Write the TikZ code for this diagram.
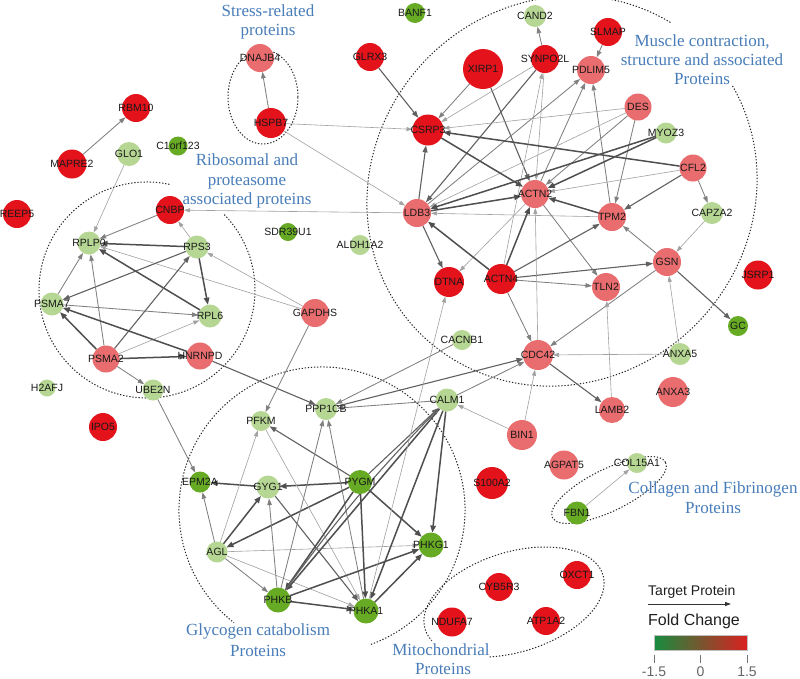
\documentclass[tikz,border=0pt]{standalone}
\usepackage{fontspec}
\setmainfont{Liberation Serif}
\newfontfamily\lblfont{Liberation Sans}
\usetikzlibrary{arrows.meta}
\definecolor{nred}{RGB}{227,18,27}
\definecolor{npink}{RGB}{233,108,110}
\definecolor{nlg}{RGB}{182,215,147}
\definecolor{ndg}{RGB}{103,171,36}
\definecolor{grptext}{RGB}{72,125,185}
\definecolor{cbgreen}{RGB}{22,140,62}
\definecolor{cbred}{RGB}{218,32,32}
\pgfdeclarelayer{back}
\pgfdeclarelayer{bg}
\pgfsetlayers{back,bg,main}
\tikzset{
  nd/.style={circle, draw=none, inner sep=0pt, outer sep=0pt, minimum size=#1},
  lbl/.style={font=\lblfont\fontsize{10.5}{12}\selectfont, text=black!90, inner sep=0pt},
  ethick/.style={draw=black!69, line width=1.5pt, -{Triangle[length=7pt,width=5.5pt]}},
  edark/.style={draw=black!62, line width=1.1pt, -{Triangle[length=7pt,width=5pt]}},
  emid/.style={draw=black!50, line width=0.85pt, -{Triangle[length=6.5pt,width=4.5pt]}},
  elight/.style={draw=black!37, line width=0.6pt, -{Triangle[length=6pt,width=4pt]}},
  grp/.style={draw=black!85, line width=1pt, dash pattern=on 1.3pt off 1.8pt},
  grpl/.style={font=\fontsize{17}{20}\selectfont, text=grptext, anchor=base, inner sep=0pt},
  lgd/.style={font=\lblfont\fontsize{14}{16}\selectfont, text=black!88, inner sep=0pt},
}
\newcommand\nodeat[5]{\node[nd=#4,fill=#5,label={[lbl]center:#1}] (#1) at (#2,-#3) {};}
\begin{document}
\begin{tikzpicture}[x=1pt,y=1pt]
\useasboundingbox (0,0) rectangle (800,-678);
\begin{pgfonlayer}{back}
\fill[white] (0,0) rectangle (800,-678);
\end{pgfonlayer}
% nodes
\nodeat{BANF1}{415}{13}{20}{ndg}
\nodeat{CAND2}{535}{16}{22}{nlg}
\nodeat{GLRX3}{370}{57}{28}{nred}
\nodeat{XIRP1}{483}{69}{40}{nred}
\nodeat{SYNPO2L}{545}{59}{28}{nred}
\nodeat{SLMAP}{608}{32}{28}{nred}
\nodeat{PDLIM5}{591}{70}{28}{npink}
\nodeat{DNAJB4}{260}{58}{28}{npink}
\nodeat{HSPB7}{271}{123}{30}{nred}
\nodeat{RBM10}{136}{108}{28}{nred}
\nodeat{MAPRE2}{72}{164}{29}{nred}
\nodeat{GLO1}{129}{154}{24}{nlg}
\nodeat{C1orf123}{178}{146}{19}{ndg}
\nodeat{REEP5}{17}{214}{28}{nred}
\nodeat{CNBP}{170}{210}{28}{nred}
\nodeat{CSRP3}{428}{130}{31}{nred}
\nodeat{DES}{638}{107}{27}{npink}
\nodeat{MYOZ3}{666}{133}{21}{nlg}
\nodeat{CFL2}{693}{168}{27}{npink}
\nodeat{CAPZA2}{712}{213}{22}{nlg}
\nodeat{ACTN2}{535}{194}{28}{npink}
\nodeat{LDB3}{417}{213}{28}{npink}
\nodeat{TPM2}{612}{217}{28}{npink}
\nodeat{GSN}{667}{262}{28}{npink}
\nodeat{JSRP1}{758}{275}{29}{nred}
\nodeat{GC}{738}{326}{20}{ndg}
\nodeat{TLN2}{606}{287}{28}{npink}
\nodeat{DTNA}{449}{282}{30}{nred}
\nodeat{ACTN4}{501}{279}{30}{nred}
\nodeat{CDC42}{538}{355}{30}{npink}
\nodeat{ANXA5}{680}{354}{22}{nlg}
\nodeat{ANXA3}{673}{392}{30}{npink}
\nodeat{LAMB2}{612}{410}{26}{npink}
\nodeat{CACNB1}{462}{340}{20}{nlg}
\nodeat{SDR39U1}{288}{232}{18}{ndg}
\nodeat{ALDH1A2}{360}{245}{20}{nlg}
\nodeat{RPLP0}{89}{243}{23}{nlg}
\nodeat{RPS3}{197}{247}{23}{nlg}
\nodeat{PSMA7}{52}{304}{23}{nlg}
\nodeat{RPL6}{210}{316}{23}{nlg}
\nodeat{GAPDHS}{315}{313}{28}{npink}
\nodeat{PSMA2}{106}{359}{27}{npink}
\nodeat{HNRNPD}{200}{356}{27}{npink}
\nodeat{H2AFJ}{47}{388}{17}{nlg}
\nodeat{UBE2N}{153}{390}{21}{nlg}
\nodeat{IPO5}{103}{427}{28}{nred}
\nodeat{PFKM}{261}{421}{20}{nlg}
\nodeat{PPP1CB}{326}{409}{22}{nlg}
\nodeat{CALM1}{447}{400}{23}{nlg}
\nodeat{BIN1}{522}{435}{30}{npink}
\nodeat{EPM2A}{200}{482}{21}{ndg}
\nodeat{GYG1}{268}{487}{23}{nlg}
\nodeat{PYGM}{360}{482}{24}{ndg}
\nodeat{AGL}{217}{552}{21}{nlg}
\nodeat{PHKG1}{431}{545}{25}{ndg}
\nodeat{PHKB}{278}{600}{25}{ndg}
\nodeat{PHKA1}{366}{611}{25}{ndg}
\nodeat{S100A2}{492}{483}{32}{nred}
\nodeat{AGPAT5}{564}{465}{29}{npink}
\nodeat{COL15A1}{637}{463}{20}{nlg}
\nodeat{FBN1}{577}{513}{23}{ndg}
\nodeat{CYB5R3}{499}{587}{28}{nred}
\nodeat{OXCT1}{577}{575}{28}{nred}
\nodeat{NDUFA7}{452}{622}{29}{nred}
\nodeat{ATP1A2}{546}{621}{28}{nred}
% groups and edges
\begin{pgfonlayer}{bg}
\draw[grp] (263,-97) ellipse [x radius=35, y radius=47];
\draw[grp] (147,-290) ++(78:108) arc[start angle=78, end angle=405, radius=108];
\draw[grp, rotate around={45:(562,-191)}] (562,-191) ++(13:201 and 189) arc[start angle=13, end angle=346, x radius=201, y radius=189];
\draw[grp] (322,-510) ++(290:143) arc[start angle=290, end angle=592, radius=143];
\draw[grp, rotate around={17:(514,-602)}] (514,-602) ++(245:93 and 50) arc[start angle=245, end angle=555, x radius=93, y radius=50];
\draw[grp, rotate around={26:(609,-490)}] (609,-490) ellipse [x radius=63, y radius=21];
\draw[emid] (MAPRE2) -- (RBM10);
\draw[elight] (GLO1) -- (RPLP0);
\draw[emid] (HSPB7) -- (DNAJB4);
\draw[elight] (HSPB7) -- (CSRP3);
\draw[elight] (HSPB7) -- (LDB3);
\draw[edark] (GLRX3) -- (CSRP3);
\draw[emid] (XIRP1) -- (CSRP3);
\draw[edark] (XIRP1) -- (ACTN2);
\draw[emid] (SYNPO2L) -- (CAND2);
\draw[elight] (SYNPO2L) -- (CSRP3);
\draw[edark] (SYNPO2L) -- (LDB3);
\draw[elight] (SYNPO2L) -- (ACTN2);
\draw[elight] (ACTN4) -- (SYNPO2L);
\draw[emid] (SLMAP) -- (PDLIM5);
\draw[emid] (LDB3) -- (PDLIM5);
\draw[emid] (ACTN2) -- (PDLIM5);
\draw[emid] (TPM2) -- (PDLIM5);
\draw[elight] (DES) -- (CSRP3);
\draw[elight] (DES) -- (LDB3);
\draw[emid] (DES) -- (ACTN2);
\draw[emid] (DES) -- (TPM2);
\draw[ethick] (MYOZ3) -- (ACTN2);
\draw[ethick] (MYOZ3) -- (LDB3);
\draw[ethick] (CFL2) -- (CSRP3);
\draw[elight] (CFL2) -- (ACTN2);
\draw[edark] (CFL2) -- (TPM2);
\draw[emid] (CFL2) -- (CAPZA2);
\draw[elight] (CAPZA2) -- (GSN);
\draw[ethick] (CSRP3) -- (ACTN2);
\draw[edark] (LDB3) -- (CSRP3);
\draw[ethick] (LDB3) -- (ACTN2);
\draw[edark] (LDB3) -- (DTNA);
\draw[elight] (LDB3) -- (CNBP);
\draw[elight] (TPM2) -- (LDB3);
\draw[ethick] (TPM2) -- (ACTN2);
\draw[elight] (ACTN2) -- (DTNA);
\draw[emid] (ACTN2) -- (TLN2);
\draw[ethick] (ACTN4) -- (LDB3);
\draw[ethick] (ACTN4) -- (ACTN2);
\draw[edark] (ACTN4) -- (TPM2);
\draw[edark] (ACTN4) -- (GSN);
\draw[emid] (ACTN4) -- (TLN2);
\draw[emid] (ACTN4) -- (CDC42);
\draw[emid] (GSN) -- (TPM2);
\draw[edark] (GSN) -- (GC);
\draw[emid] (GSN) -- (CDC42);
\draw[elight] (ANXA5) -- (GSN);
\draw[elight] (ANXA5) -- (CDC42);
\draw[elight] (CDC42) -- (ACTN2);
\draw[edark] (CDC42) -- (LAMB2);
\draw[elight] (LAMB2) -- (TLN2);
\draw[elight] (BIN1) -- (CDC42);
\draw[elight] (BIN1) -- (CALM1);
\draw[emid] (CALM1) -- (CDC42);
\draw[edark] (PPP1CB) -- (CDC42);
\draw[emid] (CACNB1) -- (PPP1CB);
\draw[emid] (CALM1) -- (PPP1CB);
\draw[edark] (HNRNPD) -- (PPP1CB);
\draw[emid] (GAPDHS) -- (PFKM);
\draw[elight] (GAPDHS) -- (RPS3);
\draw[elight] (GAPDHS) -- (RPLP0);
\draw[emid] (CNBP) -- (RPLP0);
\draw[elight] (RPS3) -- (CNBP);
\draw[ethick] (RPS3) -- (RPLP0);
\draw[edark] (RPS3) -- (PSMA7);
\draw[ethick] (RPS3) -- (RPL6);
\draw[ethick] (RPL6) -- (RPLP0);
\draw[emid] (PSMA7) -- (RPLP0);
\draw[emid] (PSMA7) -- (RPL6);
\draw[ethick] (PSMA2) -- (PSMA7);
\draw[emid] (PSMA2) -- (RPLP0);
\draw[edark] (PSMA2) -- (RPS3);
\draw[elight] (PSMA2) -- (RPL6);
\draw[ethick] (PSMA2) -- (HNRNPD);
\draw[emid] (PSMA2) -- (UBE2N);
\draw[ethick] (HNRNPD) -- (PSMA7);
\draw[emid] (UBE2N) -- (EPM2A);
\draw[edark] (PYGM) -- (PFKM);
\draw[ethick] (PYGM) -- (GYG1);
\draw[ethick] (GYG1) -- (EPM2A);
\draw[emid] (AGL) -- (EPM2A);
\draw[ethick] (AGL) -- (GYG1);
\draw[ethick] (PYGM) -- (AGL);
\draw[elight] (AGL) -- (PFKM);
\draw[emid] (AGL) -- (PHKB);
\draw[elight] (AGL) -- (PHKA1);
\draw[elight] (AGL) -- (PHKG1);
\draw[elight] (PFKM) -- (PHKA1);
\draw[edark] (GYG1) -- (PHKA1);
\draw[emid] (PHKB) -- (GYG1);
\draw[emid] (PHKB) -- (PPP1CB);
\draw[emid] (PHKA1) -- (PPP1CB);
\draw[ethick] (PYGM) -- (PHKB);
\draw[ethick] (PYGM) -- (PHKA1);
\draw[ethick] (PYGM) -- (PHKG1);
\draw[ethick] (PHKB) -- (PHKA1);
\draw[ethick] (PHKB) -- (PHKG1);
\draw[ethick] (PHKA1) -- (PHKG1);
\draw[ethick] (CALM1) -- (PHKG1);
\draw[ethick] (CALM1) -- (PHKA1);
\draw[ethick] (CALM1) -- (PHKB);
\draw[edark] (PYGM) -- (CALM1);
\draw[edark] (PHKB) to[bend left=4] (CALM1);
\draw[elight] (PHKA1) -- (DTNA);
\draw[elight] (FBN1) -- (COL15A1);
\end{pgfonlayer}
% group labels
\node[grpl] (s1) at (268,-16) {Stress-related};
\node[grpl] (s2) at (268,-35) {proteins};
\node[grpl] (r1) at (247,-165) {Ribosomal and};
\node[grpl] (r2) at (247,-185) {proteasome};
\node[grpl] (r3) at (247,-204) {associated proteins};
\node[grpl] (m1) at (702,-46) {Muscle contraction,};
\node[grpl] (m2) at (702,-65) {structure and associated};
\node[grpl] (m3) at (702,-84) {Proteins};
\node[grpl] (c1) at (713,-493) {Collagen and Fibrinogen};
\node[grpl] (c2) at (713,-513) {Proteins};
\node[grpl] (g1) at (258,-635) {Glycogen catabolism};
\node[grpl] (g2) at (258,-656) {Proteins};
\node[grpl] (t1) at (441,-655) {Mitochondrial};
\node[grpl] (t2) at (443,-674) {Proteins};
% legend
\node[lgd, anchor=base west] (tp) at (648,-595) {Target Protein};
\coordinate (la) at (648,-604);
\coordinate (lb) at (731,-604);
\draw[draw=black!80, line width=0.9pt, -{Triangle[length=6pt,width=4pt]}] (la) -- (lb);
\node[lgd, anchor=base west, font=\lblfont\fontsize{16}{18}\selectfont] (fc) at (648,-625) {Fold Change};
\shade[left color=cbgreen, middle color=black, right color=cbred] (654,-635) rectangle (747,-650);
\draw[black!25, line width=0.4pt] (654,-635) rectangle (747,-650);
\draw[black!55, line width=1pt] (654,-655) -- (654,-663);
\draw[black!55, line width=1pt] (700.5,-655) -- (700.5,-663);
\draw[black!55, line width=1pt] (747,-655) -- (747,-663);
\node[lgd, anchor=base, text=black!60] (k1) at (654,-676) {-1.5};
\node[lgd, anchor=base, text=black!60] (k2) at (700.5,-676) {0};
\node[lgd, anchor=base, text=black!60] (k3) at (747,-676) {1.5};
\end{tikzpicture}
\end{document}
